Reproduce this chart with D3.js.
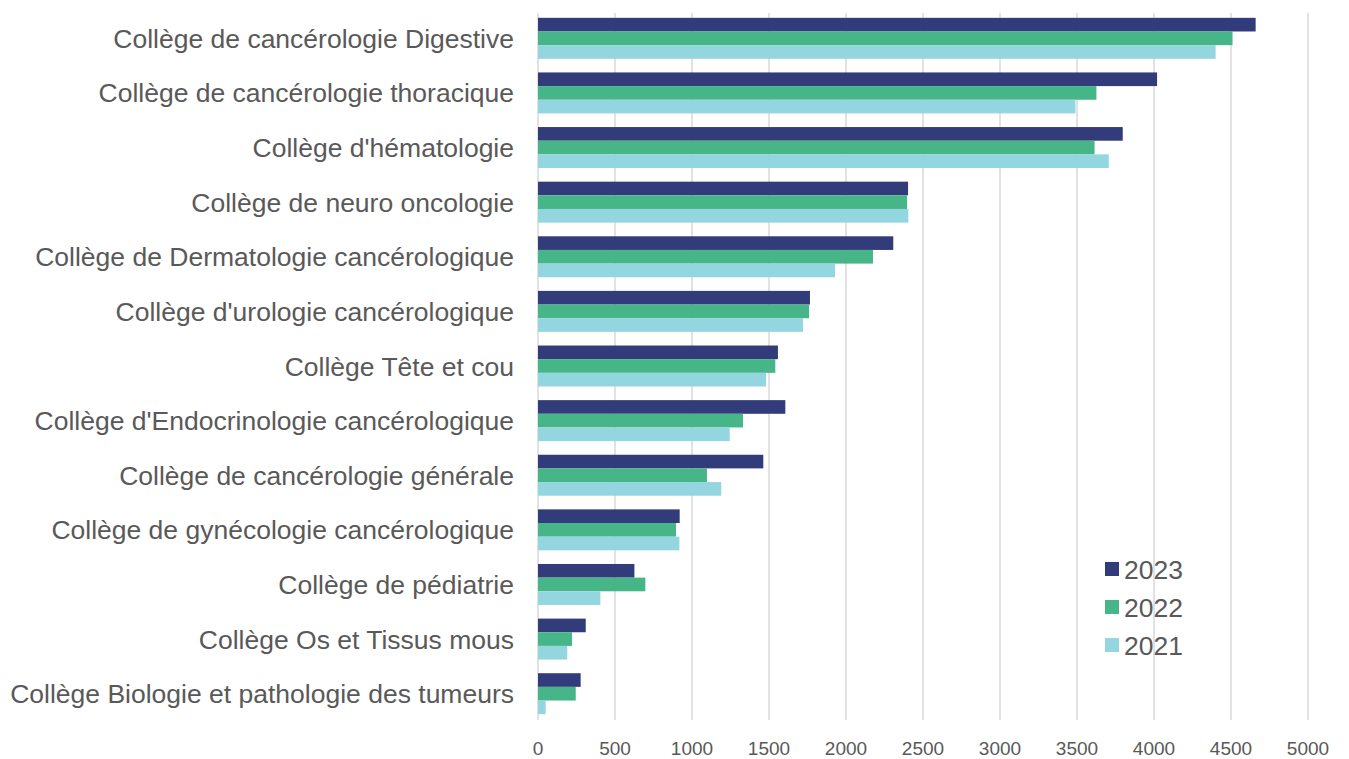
<!DOCTYPE html>
<html>
<head>
<meta charset="utf-8">
<script src="https://cdn.jsdelivr.net/npm/d3@7"></script>
<style>
  body { margin: 0; background: #fff; }
  text { font-family: "Liberation Sans", Arial, sans-serif; fill: #595959; }
</style>
</head>
<body>
<div id="chart"></div>
<script>
var svgWidth = 1349;
var svgHeight = 759;

var categories = [
  "Collège de cancérologie Digestive",
  "Collège de cancérologie thoracique",
  "Collège d'hématologie",
  "Collège de neuro oncologie",
  "Collège de Dermatologie cancérologique",
  "Collège d'urologie cancérologique",
  "Collège Tête et cou",
  "Collège d'Endocrinologie cancérologique",
  "Collège de cancérologie générale",
  "Collège de gynécologie cancérologique",
  "Collège de pédiatrie",
  "Collège Os et Tissus mous",
  "Collège Biologie et pathologie des tumeurs"
];

var years = ["2023", "2022", "2021"];
var values2023 = [4660, 4020, 3797, 2403, 2307, 1766, 1558, 1606, 1463, 920, 626, 310, 277];
var values2022 = [4510, 3626, 3614, 2396, 2175, 1760, 1541, 1331, 1097, 896, 697, 221, 245];
var values2021 = [4400, 3490, 3706, 2405, 1929, 1721, 1481, 1245, 1190, 918, 405, 190, 50];
var xTicks = [0, 500, 1000, 1500, 2000, 2500, 3000, 3500, 4000, 4500, 5000];

var colors = { "2023": "#333c7a", "2022": "#46b587", "2021": "#93d6df" };
var series = { "2023": values2023, "2022": values2022, "2021": values2021 };

var svg = d3.select("#chart")
  .append("svg")
  .attr("width", svgWidth)
  .attr("height", svgHeight);

var xScale = d3.scaleLinear()
  .domain([0, 5000])
  .range([538, 1308]);

var yScale = d3.scaleBand()
  .domain(categories)
  .range([11, 721])
  .paddingInner(0.25)
  .paddingOuter(0.125);

var ySub = d3.scaleBand()
  .domain(years)
  .range([0, yScale.bandwidth()]);

// gridlines
svg.append("g")
  .selectAll("line")
  .data(xTicks)
  .enter()
  .append("line")
  .attr("x1", d => xScale(d))
  .attr("x2", d => xScale(d))
  .attr("y1", 13)
  .attr("y2", 720)
  .attr("stroke", "#d9d9d9")
  .attr("stroke-width", 1.5);

// tick labels
svg.append("g")
  .selectAll("text")
  .data(xTicks)
  .enter()
  .append("text")
  .attr("x", d => xScale(d))
  .attr("y", 755)
  .attr("text-anchor", "middle")
  .attr("font-size", "19px")
  .text(d => d);

// bars
var groups = svg.append("g")
  .selectAll("g")
  .data(categories)
  .enter()
  .append("g")
  .attr("transform", d => `translate(0, ${yScale(d)})`);

groups.selectAll("rect")
  .data((d, i) => years.map(y => ({ year: y, value: series[y][i] })))
  .enter()
  .append("rect")
  .attr("x", xScale(0))
  .attr("y", d => ySub(d.year))
  .attr("width", d => xScale(d.value) - xScale(0))
  .attr("height", ySub.bandwidth())
  .attr("fill", d => colors[d.year]);

// category labels
svg.append("g")
  .selectAll("text")
  .data(categories)
  .enter()
  .append("text")
  .attr("x", 514)
  .attr("y", d => yScale(d) + yScale.bandwidth() / 2)
  .attr("dy", "0.36em")
  .attr("text-anchor", "end")
  .attr("font-size", "26.5px")
  .text(d => d);

// legend
var legend = svg.append("g")
  .selectAll("g")
  .data(years)
  .enter()
  .append("g")
  .attr("transform", (d, i) => `translate(1105, ${569 + i * 38})`);

legend.append("rect")
  .attr("x", 0)
  .attr("y", -7)
  .attr("width", 14)
  .attr("height", 14)
  .attr("fill", d => colors[d]);

legend.append("text")
  .attr("x", 19)
  .attr("y", 0)
  .attr("dy", "0.36em")
  .attr("font-size", "26.5px")
  .text(d => d);
</script>
</body>
</html>
